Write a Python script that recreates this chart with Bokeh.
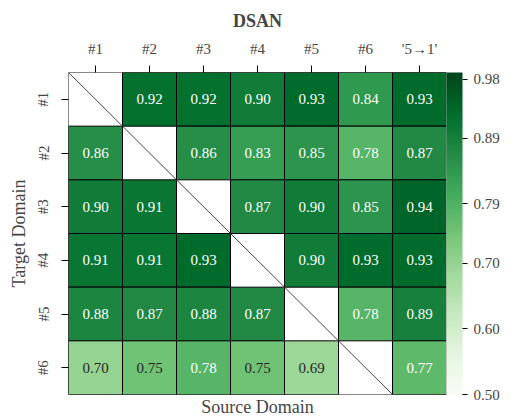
from bokeh.plotting import figure
from bokeh.models import (ColumnDataSource, LinearColorMapper, ColorBar, FixedTicker,
                          Range1d, PrintfTickFormatter, Title)
from bokeh.core.properties import value
from bokeh.palettes import Greens256
from bokeh.embed import file_html
from bokeh.resources import INLINE
import math

# Transfer accuracy of DSAN: rows are target domains, columns are source domains
sources = ["#1", "#2", "#3", "#4", "#5", "#6", "'5\u21921'"]
targets = ["#1", "#2", "#3", "#4", "#5", "#6"]
nan = float("nan")
row_1 = [nan, 0.92, 0.92, 0.90, 0.93, 0.84, 0.93]
row_2 = [0.86, nan, 0.86, 0.83, 0.85, 0.78, 0.87]
row_3 = [0.90, 0.91, nan, 0.87, 0.90, 0.85, 0.94]
row_4 = [0.91, 0.91, 0.93, nan, 0.90, 0.93, 0.93]
row_5 = [0.88, 0.87, 0.88, 0.87, nan, 0.78, 0.89]
row_6 = [0.70, 0.75, 0.78, 0.75, 0.69, nan, 0.77]
rows = [row_1, row_2, row_3, row_4, row_5, row_6]
vmin, vmax = 0.50, 0.99
cbar_ticks = [0.50, 0.60, 0.70, 0.79, 0.89, 0.98]

FONT = "Liberation Serif"

xs, ys, vals, labels, tcolors = [], [], [], [], []
dx0, dy0, dx1, dy1 = [], [], [], []
for i, row in enumerate(rows):
    for j, v in enumerate(row):
        if math.isnan(v):
            # empty diagonal cell, crossed from corner to corner
            dx0.append(j); dy0.append(i); dx1.append(j + 1); dy1.append(i + 1)
            continue
        xs.append(j + 0.5)
        ys.append(i + 0.5)
        vals.append(v)
        labels.append(f"{v:.2f}")
        tcolors.append("white" if v >= 0.76 else "#262626")

src = ColumnDataSource(dict(x=xs, y=ys, v=vals, label=labels, tc=tcolors))
mapper = LinearColorMapper(palette=Greens256[::-1], low=vmin, high=vmax)

p = figure(width=515, height=417, output_backend="svg", toolbar_location=None,
           x_range=Range1d(0, len(sources)), y_range=Range1d(len(targets), 0),
           x_axis_location="above", tools="",
           min_border_left=68, min_border_top=72, min_border_bottom=23, min_border_right=69)
p.grid.visible = False
p.outline_line_color = "#888888"
p.background_fill_color = "white"

p.rect(x="x", y="y", width=1, height=1, source=src,
       fill_color={"field": "v", "transform": mapper},
       line_color="black", line_width=1)
p.segment(x0=dx0, y0=dy0, x1=dx1, y1=dy1, line_color="#444444", line_width=1)
p.text(x="x", y="y", text="label", source=src, text_color="tc",
       text_align="center", text_baseline="middle",
       text_font=value(FONT), text_font_size="15px")

# top axis: source domains
xa = p.xaxis[0]
xa.ticker = FixedTicker(ticks=[j + 0.5 for j in range(len(sources))])
xa.major_label_overrides = {j + 0.5: s for j, s in enumerate(sources)}
xa.major_label_text_font = FONT
xa.major_label_text_font_size = "15px"
xa.major_tick_out = 7
xa.major_tick_in = 0
xa.minor_tick_line_color = None
xa.axis_line_color = None
xa.major_label_standoff = 9

ya = p.yaxis[0]
ya.ticker = FixedTicker(ticks=[i + 0.5 for i in range(len(targets))])
ya.major_label_overrides = {i + 0.5: t for i, t in enumerate(targets)}
ya.major_label_orientation = "vertical"
ya.major_label_text_font = FONT
ya.major_label_text_font_size = "15px"
ya.major_label_standoff = 10
ya.major_tick_out = 7
ya.major_tick_in = 0
ya.minor_tick_line_color = None
ya.axis_line_color = None
ya.axis_label = "Target Domain"
ya.axis_label_text_font = FONT
ya.axis_label_text_font_style = "normal"
ya.axis_label_text_font_size = "18px"
ya.axis_label_standoff = 4

p.add_layout(Title(text="Source Domain", align="center", text_font=FONT,
                   text_font_size="18px", text_font_style="normal",
                   standoff=0, offset=0), "below")
p.add_layout(Title(text="DSAN", align="center", text_font=FONT,
                   text_font_size="18px", text_font_style="bold",
                   standoff=13), "above")

cb = ColorBar(color_mapper=mapper, ticker=FixedTicker(ticks=cbar_ticks),
              formatter=PrintfTickFormatter(format="%.2f"),
              width=16, padding=0, margin=8, bar_line_color=None,
              major_label_text_font=FONT, major_label_text_font_size="15px",
              major_tick_out=5, major_tick_in=0, major_tick_line_color="black",
              label_standoff=6)
p.add_layout(cb, "right")

open("out.html", "w").write(file_html(p, INLINE))
